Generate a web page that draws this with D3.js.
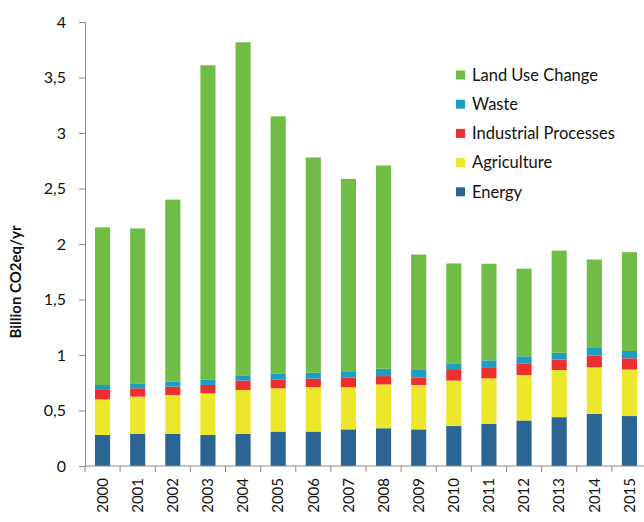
<!DOCTYPE html>
<html>
<head>
<meta charset="utf-8">
<script src="https://cdn.jsdelivr.net/npm/d3@7"></script>
<style>
  html, body { margin: 0; padding: 0; background: #fff; }
  svg { display: block; }
  text { font-family: Lato, "Open Sans", sans-serif; }
</style>
</head>
<body>
<svg id="chart" width="644" height="522"></svg>
<script>
const years = ["2000","2001","2002","2003","2004","2005","2006","2007","2008","2009","2010","2011","2012","2013","2014","2015"];
const energy      = [0.28,0.29,0.29,0.28,0.29,0.31,0.31,0.33,0.34,0.33,0.36,0.38,0.41,0.44,0.47,0.45];
const agriculture = [0.32,0.335,0.35,0.375,0.395,0.39,0.40,0.38,0.395,0.40,0.41,0.41,0.41,0.425,0.42,0.42];
const industrial  = [0.085,0.075,0.075,0.075,0.085,0.08,0.077,0.085,0.075,0.065,0.095,0.10,0.105,0.095,0.105,0.10];
const waste       = [0.045,0.045,0.045,0.05,0.047,0.05,0.053,0.052,0.067,0.07,0.06,0.062,0.063,0.06,0.075,0.066];
const landUse     = [1.42,1.395,1.64,2.83,3.00,2.32,1.94,1.74,1.83,1.04,0.90,0.87,0.79,0.92,0.79,0.89];
const seriesNames = ["Energy","Agriculture","Industrial Processes","Waste","Land Use Change"];
const seriesColors = ["#2b6594","#ece72a","#ed2f30","#1f9cc1","#6fbd45"];
const yTicks = [0,0.5,1,1.5,2,2.5,3,3.5,4];
const yTitle = "Billion CO2eq/yr";

const svg = d3.select("#chart");
const x0 = 85, x1 = 647, yBase = 466, yTop = 22;

const x = d3.scaleBand().domain(years).range([x0, x1]).paddingInner(0.57).paddingOuter(0.285);
const y = d3.scaleLinear().domain([0, 4]).range([yBase, yTop]);

const table = years.map((yr, i) => ({
  year: yr,
  "Energy": energy[i],
  "Agriculture": agriculture[i],
  "Industrial Processes": industrial[i],
  "Waste": waste[i],
  "Land Use Change": landUse[i]
}));
const stacked = d3.stack().keys(seriesNames)(table);

// Bars
svg.append("g").selectAll("g").data(stacked).join("g")
  .attr("fill", (d, i) => seriesColors[i])
  .selectAll("rect").data(d => d).join("rect")
  .attr("x", d => x(d.data.year))
  .attr("width", x.bandwidth())
  .attr("y", d => y(d[1]))
  .attr("height", d => y(d[0]) - y(d[1]));

// Y axis
const yAxis = d3.axisLeft(y).tickValues(yTicks).tickSize(6).tickPadding(13)
  .tickFormat(d => d3.format("")(d).replace(".", ","));
const gy = svg.append("g").attr("transform", `translate(${x0},0)`).call(yAxis);
gy.select(".domain").attr("stroke", "#8c8c8c");
gy.selectAll(".tick line").attr("stroke", "#8c8c8c");
gy.selectAll(".tick text").attr("font-size", 16).attr("fill", "#111")
  .attr("font-family", "Lato, sans-serif");

// X axis
const xAxis = d3.axisBottom(x).tickSize(0).tickPadding(0);
const gx = svg.append("g").attr("transform", `translate(0,${yBase})`).call(xAxis);
gx.select(".domain").attr("stroke", "#8c8c8c").attr("d", `M${x0},0H644`);
gx.selectAll(".tick text")
  .attr("font-size", 15).attr("fill", "#111")
  .attr("text-anchor", "end")
  .attr("transform", "translate(0,12) rotate(-90)")
  .attr("x", 0).attr("y", 0).attr("dy", "0.35em");
// boundary ticks
const step = x.step();
const bounds = d3.range(years.length + 1).map(i => x0 + i * step).filter(v => v <= 644);
svg.append("g").selectAll("line").data(bounds).join("line")
  .attr("x1", d => d).attr("x2", d => d)
  .attr("y1", yBase).attr("y2", yBase + 6)
  .attr("stroke", "#8c8c8c");

// Y title
svg.append("text")
  .attr("transform", "translate(21,282) rotate(-90)")
  .attr("text-anchor", "middle")
  .attr("font-size", 15).attr("font-weight", "bold").attr("fill", "#111")
  .text(yTitle);

// Legend (reverse order)
const legendOrder = seriesNames.map((n, i) => ({ name: n, color: seriesColors[i] })).reverse();
const lg = svg.append("g").selectAll("g").data(legendOrder).join("g")
  .attr("transform", (d, i) => `translate(456,${75 + i * 29.2})`);
lg.append("rect").attr("x", 0).attr("y", -4.5).attr("width", 9).attr("height", 9).attr("fill", d => d.color);
lg.append("text").attr("x", 16).attr("y", 0).attr("dy", "0.35em")
  .attr("font-size", 16.5).attr("fill", "#111").text(d => d.name);
</script>
</body>
</html>
